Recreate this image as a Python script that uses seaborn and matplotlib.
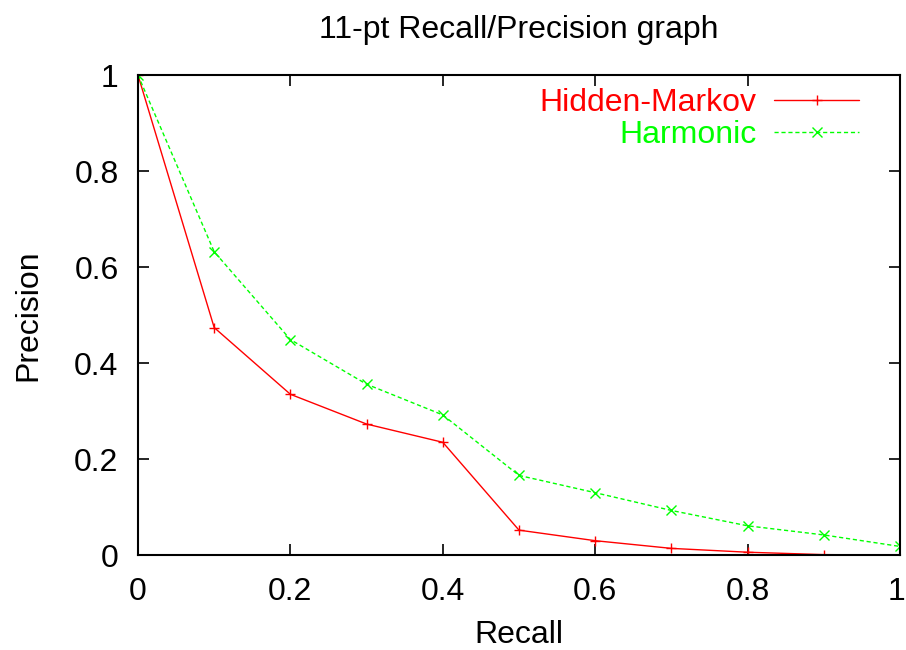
import numpy as np
import pandas as pd
import seaborn as sns
import matplotlib.pyplot as plt
import matplotlib.transforms as mtransforms
from matplotlib.ticker import FuncFormatter, MultipleLocator

recall = [0.0, 0.1, 0.2, 0.3, 0.4, 0.5, 0.6, 0.7, 0.8, 0.9, 1.0]
hidden_markov = [1.0, 0.474, 0.335, 0.273, 0.235, 0.052, 0.030, 0.014, 0.006, 0.001, 0.0]
harmonic = [1.0, 0.632, 0.449, 0.356, 0.292, 0.166, 0.130, 0.093, 0.061, 0.042, 0.018]
series_names = ["Hidden-Markov", "Harmonic"]
series_colors = ["#ff0000", "#00ff00"]


def build_frame():
    df = pd.DataFrame({"Recall": recall * 2,
                       "Precision": hidden_markov + harmonic,
                       "model": [series_names[0]] * len(recall) + [series_names[1]] * len(recall)})
    return df


def plot(df):
    sns.set_style("white")
    plt.rcParams['font.family'] = ['Liberation Sans', 'DejaVu Sans']
    plt.rcParams['text.color'] = 'black'
    plt.rcParams['axes.labelcolor'] = 'black'
    fs = 23
    fig = plt.figure(figsize=(9.06, 6.5), dpi=100)
    ax = fig.add_axes([0.1523, 0.146, 0.8411, 0.7385])

    sns.lineplot(data=df, x="Recall", y="Precision", hue="model", style="model",
                 palette=series_colors, markers=["+", "x"], dashes=[(None, None), (3, 2)],
                 markersize=7, linewidth=1, ax=ax)
    # seaborn gives the markers a white edge, put the line colour back
    for ln in ax.lines:
        ln.set_markeredgecolor(ln.get_color())
        ln.set_markeredgewidth(1)

    ax.set_xlim(0, 1)
    ax.set_ylim(0, 1)
    ax.set_xticks([0, 0.2, 0.4, 0.6, 0.8, 1.0])
    ax.yaxis.set_major_locator(MultipleLocator(0.2))
    fmt = FuncFormatter(lambda v, p: "%g" % round(v, 2))
    ax.xaxis.set_major_formatter(fmt)
    ax.yaxis.set_major_formatter(fmt)
    ax.tick_params(direction="in", length=8, width=1.2, top=True, right=True,
                   bottom=True, left=True, labelsize=fs, colors="black")
    ax.tick_params(axis="x", pad=16)
    ax.tick_params(axis="y", pad=14)
    for s in ax.spines.values():
        s.set_color("black")
        s.set_linewidth(1.5)

    ax.set_xlabel("Recall", fontsize=fs, labelpad=9)
    ax.set_ylabel("Precision", fontsize=fs, labelpad=22)
    ax.set_title("11-pt Recall/Precision graph", fontsize=fs, pad=27)

    leg = ax.legend(loc="upper right", bbox_to_anchor=(0.963, 1.0), frameon=False,
                    markerfirst=False, labelcolor="linecolor", fontsize=fs,
                    handlelength=2.65, labelspacing=0.08, borderaxespad=0,
                    handletextpad=0.55)

    # keep the x tick label "1" inside the figure edge
    fig.canvas.draw()
    for lab in ax.get_xticklabels():
        if lab.get_text() == "1":
            lab.set_transform(lab.get_transform() + mtransforms.ScaledTranslation(-4 / 100, 0, fig.dpi_scale_trans))
    plt.savefig("out.png", dpi=100)


def run():
    df = build_frame()
    plot(df)


if __name__ == '__main__':
    run()
